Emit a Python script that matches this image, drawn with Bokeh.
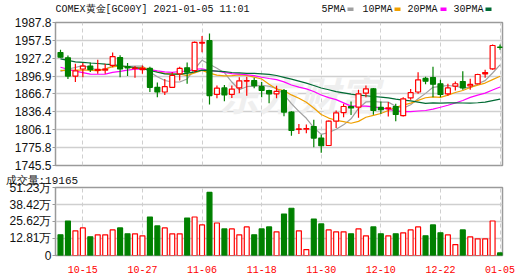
from bokeh.plotting import figure
from bokeh.layouts import column
from bokeh.models import Range1d, FixedTicker, ColumnDataSource, Title
from bokeh.embed import file_html
from bokeh.resources import INLINE
from bokeh.core.properties import value
import numpy as np

# ---------------- data ----------------
dates = ["10-12", "10-13", "10-14", "10-15", "10-16", "10-19", "10-20", "10-21", "10-22", "10-23",
         "10-26", "10-27", "10-28", "10-29", "10-30", "11-02", "11-03", "11-04", "11-05", "11-06",
         "11-09", "11-10", "11-11", "11-12", "11-13", "11-16", "11-17", "11-18", "11-19", "11-20",
         "11-23", "11-24", "11-25", "11-26", "11-27", "11-30", "12-01", "12-02", "12-03", "12-04",
         "12-07", "12-08", "12-09", "12-10", "12-11", "12-14", "12-15", "12-16", "12-17", "12-18",
         "12-21", "12-22", "12-23", "12-24", "12-28", "12-29", "12-30", "12-31", "01-04", "01-05"]
opens = [1937, 1928, 1897, 1909, 1914, 1906.5, 1907, 1915, 1928.5, 1913,
         1910, 1908, 1910, 1878, 1870, 1878, 1901, 1911, 1906.5, 1953,
         1957, 1866, 1877, 1866, 1877, 1888.5, 1889.5, 1879, 1872.6, 1867,
         1872.6, 1836, 1806.5, 1807, 1811.6, 1792, 1779.4, 1820.6, 1835, 1845.5,
         1844.4, 1868, 1875.4, 1844, 1842, 1845.5, 1830, 1860, 1870, 1893,
         1894.6, 1884, 1867, 1880, 1887.8, 1880.5, 1884, 1900.8, 1909.3, 1946]
highs = [1941.5, 1932, 1918, 1919, 1920, 1924.6, 1918, 1937, 1932.5, 1919,
         1914, 1915, 1913, 1886, 1892, 1903.6, 1913, 1920, 1955.6, 1965,
         1969, 1881, 1882, 1881, 1895, 1896, 1894, 1887, 1874, 1880.5,
         1875, 1837.6, 1816, 1815, 1823, 1797.5, 1821.7, 1838.7, 1850, 1854,
         1873.7, 1881, 1877, 1854, 1853, 1850, 1861.3, 1875, 1903.6, 1896,
         1913, 1890.7, 1884, 1888, 1905.4, 1892.4, 1900.8, 1907.6, 1950.5, 1950.5]
lows = [1928, 1892, 1887, 1895, 1904, 1901, 1901, 1912, 1895, 1897,
        1894, 1901, 1870, 1861, 1865, 1877, 1889.5, 1884, 1903.6, 1937.5,
        1849, 1859.6, 1854.5, 1860, 1868, 1863.6, 1876.6, 1861, 1851, 1859.6,
        1829, 1796, 1799, 1800, 1776.6, 1767, 1779, 1809, 1827.4, 1831,
        1826.3, 1861, 1831.4, 1833, 1828.5, 1820.6, 1828.5, 1857, 1867, 1883,
        1861, 1861, 1863.6, 1872.6, 1873.7, 1873.7, 1882.8, 1894, 1907.6, 1941.5]
closes = [1929, 1897, 1906, 1914, 1908, 1908.5, 1909, 1930, 1909, 1911,
          1910.5, 1910, 1878, 1870, 1879, 1898, 1910, 1903.6, 1954, 1954,
          1864, 1876.6, 1865, 1875, 1889, 1889.5, 1881, 1872.6, 1867, 1871,
          1836, 1805, 1807.5, 1808, 1792, 1779, 1820.6, 1834.8, 1845.5, 1843,
          1867, 1875.4, 1838.7, 1840, 1843.2, 1832, 1858.5, 1869, 1890.7, 1888.4,
          1883.3, 1866, 1877, 1884, 1877, 1882.8, 1899.7, 1903, 1948.8, 1945.5]
# volume in units of 万 (10,000 contracts)
volumes_wan = [15.6, 26.0, 18.6, 20.8, 14.1, 15.6, 15.6, 19.3, 20.8, 16.3,
               16.3, 14.85, 29.0, 22.3, 20.8, 16.3, 16.3, 28.2, 29.0, 23.0,
               47.5, 24.5, 20.0, 20.0, 15.6, 21.5, 15.6, 20.0, 21.5, 17.8,
               31.2, 35.6, 18.6, 4.5, 27.5, 23.8, 19.3, 17.8, 17.8, 16.3,
               20.0, 14.85, 21.5, 16.3, 14.85, 16.3, 17.1, 19.3, 21.5, 14.85,
               23.0, 17.1, 15.6, 8.2, 19.3, 14.1, 12.6, 12.6, 26.0, 1.9165]
# closes of the 29 sessions before the window (needed for moving averages)
prior_closes = [1978.6, 1978.0, 1944.7, 1937.8, 1934.3, 1943.2, 1954.0, 1964.3, 1947.9, 1964.7,
                1966.1, 1970.5, 1962.1, 1962.1, 1910.6, 1907.6, 1868.4, 1876.9, 1866.3, 1882.3,
                1903.2, 1895.5, 1916.3, 1907.6, 1920.1, 1877.1, 1893.4, 1895.5, 1930.4]

price_ticks = [1745.5, 1775.8, 1806.1, 1836.4, 1866.7, 1896.9, 1927.2, 1957.5, 1987.8]
vol_ticks = [0, 12.81, 25.62, 38.42, 51.23]
vol_tick_labels = ["0", "12.81万", "25.62万", "38.42万", "51.23万"]
date_ticks = ["10-15", "10-27", "11-06", "11-18", "11-30", "12-10", "12-22", "01-05"]
ma_periods = [5, 10, 20, 30]
ma_names = ["5PMA", "10PMA", "20PMA", "30PMA"]
ma_colors = ["#a0a0a0", "#f0a000", "#ff00ff", "#006b34"]
title_text = "COMEX黄金[GC00Y] 2021-01-05 11:01"
last_volume = 19165

# ---------------- styles ----------------
RED = "#ff0000"
GREEN = "#008000"
GRID = "#cfcfcf"
FRAME = "#9a9a9a"
MONO = "Liberation Mono"
SANS = "Liberation Sans"
TXT = "#111111"

n = len(dates)
xs = list(range(n))
up = [c >= o for o, c in zip(opens, closes)]
colors = [RED if u else GREEN for u in up]
fills = ["#ffffff" if u else GREEN for u in up]

src = ColumnDataSource(dict(
    x=xs, open=opens, high=highs, low=lows, close=closes,
    top=[max(o, c) for o, c in zip(opens, closes)],
    bottom=[min(o, c) for o, c in zip(opens, closes)],
    vol=volumes_wan, color=colors, fill=fills,
))

all_c = np.array(prior_closes + closes, dtype=float)
n0 = len(prior_closes)
ma_data = {}
for per in ma_periods:
    ma_data[per] = [float(all_c[n0 + i - per + 1:n0 + i + 1].mean()) for i in range(n)]

tick_idx = [dates.index(d) for d in date_ticks]
x_range = Range1d(-0.67, n - 0.67)

W = 530
L, R = 55, 28

# ---------------- header strip (title + legend), x in canvas pixels ----------------
HH = 15
h = figure(width=W, height=HH, x_range=Range1d(L, W - R), y_range=Range1d(HH, 0),
           x_axis_type=None, y_axis_type=None, output_backend="svg", toolbar_location=None,
           min_border_left=L, min_border_right=R, min_border_top=0, min_border_bottom=0)
h.outline_line_color = None
h.grid.visible = False
h.text(x=[L], y=[8.5], text=[title_text], text_font=value(MONO), text_font_size="10px",
       text_color=TXT, text_align="left", text_baseline="middle")
leg_text_x = [321, 362, 407, 453]
leg_box_x = [347, 394, 440, 485]
h.text(x=leg_text_x, y=[8.5] * 4, text=ma_names, text_font=value(MONO), text_font_size="10px",
       text_color=TXT, text_align="left", text_baseline="middle")
h.quad(left=leg_box_x, right=[b + 6 for b in leg_box_x], top=[7] * 4, bottom=[10.5] * 4,
       fill_color=ma_colors, line_color=None)

# ---------------- main price chart ----------------
p = figure(width=W, height=157, x_range=x_range,
           y_range=Range1d(price_ticks[0], price_ticks[-1]),
           output_backend="svg", toolbar_location=None,
           min_border_left=L, min_border_right=R, min_border_top=7, min_border_bottom=7)
p.outline_line_color = FRAME
p.outline_line_width = 1.5

p.xaxis.visible = False
p.xgrid.ticker = FixedTicker(ticks=tick_idx)
p.xgrid.grid_line_color = GRID
p.xgrid.grid_line_dash = "4 3"
p.xgrid.grid_line_width = 1
p.ygrid.ticker = FixedTicker(ticks=price_ticks)
p.ygrid.grid_line_color = GRID
p.ygrid.grid_line_width = 1.5

p.yaxis.ticker = FixedTicker(ticks=price_ticks)
p.yaxis.major_label_overrides = {t: f"{t:.1f}" for t in price_ticks}
p.yaxis.axis_line_color = None
p.yaxis.major_tick_in = 0
p.yaxis.major_tick_out = 3
p.yaxis.major_tick_line_color = FRAME
p.yaxis.minor_tick_line_color = None
p.yaxis.major_label_standoff = 1
p.yaxis.major_label_text_font = SANS
p.yaxis.major_label_text_font_size = "12px"
p.yaxis.major_label_text_color = TXT

# faint watermark
p.text(x=[32], y=[1866], text=["东方财富"], text_font=value("Noto Sans CJK SC"),
       text_font_size="40px", text_font_style="bold italic", text_color="#efefef",
       text_align="center", text_baseline="middle")

for per, col in zip(ma_periods, ma_colors):
    p.line(xs, ma_data[per], line_color=col, line_width=1.2)

p.segment(x0="x", y0="high", x1="x", y1="low", line_color="color", line_width=1.2, source=src)
p.vbar(x="x", width=0.66, top="top", bottom="bottom", fill_color="fill",
       line_color="color", line_width=1.2, source=src)

# ---------------- volume chart ----------------
v = figure(width=W, height=104, x_range=x_range,
           y_range=Range1d(vol_ticks[0], vol_ticks[-1]),
           output_backend="svg", toolbar_location=None,
           min_border_left=L, min_border_right=R, min_border_top=14, min_border_bottom=21)
v.outline_line_color = FRAME
v.outline_line_width = 1.5
v.add_layout(Title(text=f"成交量:{last_volume}", align="left", offset=-50, standoff=1,
                   text_font=MONO, text_font_size="11px", text_font_style="normal",
                   text_color=TXT), "above")

v.xaxis.ticker = FixedTicker(ticks=tick_idx)
v.xaxis.major_label_overrides = {i: d for i, d in zip(tick_idx, date_ticks)}
v.xaxis.axis_line_color = None
v.xaxis.major_tick_line_color = None
v.xaxis.minor_tick_line_color = None
v.xaxis.major_label_standoff = 4
v.xaxis.major_label_text_font = MONO
v.xaxis.major_label_text_font_size = "10px"
v.xaxis.major_label_text_color = RED
v.xgrid.grid_line_color = GRID
v.xgrid.grid_line_dash = "4 3"
v.ygrid.ticker = FixedTicker(ticks=vol_ticks)
v.ygrid.grid_line_color = GRID
v.ygrid.grid_line_width = 1.5

v.yaxis.ticker = FixedTicker(ticks=vol_ticks)
v.yaxis.major_label_overrides = {t: s for t, s in zip(vol_ticks, vol_tick_labels)}
v.yaxis.axis_line_color = None
v.yaxis.major_tick_in = 0
v.yaxis.major_tick_out = 3
v.yaxis.major_tick_line_color = FRAME
v.yaxis.minor_tick_line_color = None
v.yaxis.major_label_standoff = 1
v.yaxis.major_label_text_font = SANS
v.yaxis.major_label_text_font_size = "12px"
v.yaxis.major_label_text_color = TXT

v.vbar(x="x", width=0.66, top="vol", bottom=0, fill_color="fill",
       line_color="color", line_width=1.2, source=src)

layout = column(h, p, v, spacing=0)
open("out.html", "w").write(file_html(layout, INLINE))
